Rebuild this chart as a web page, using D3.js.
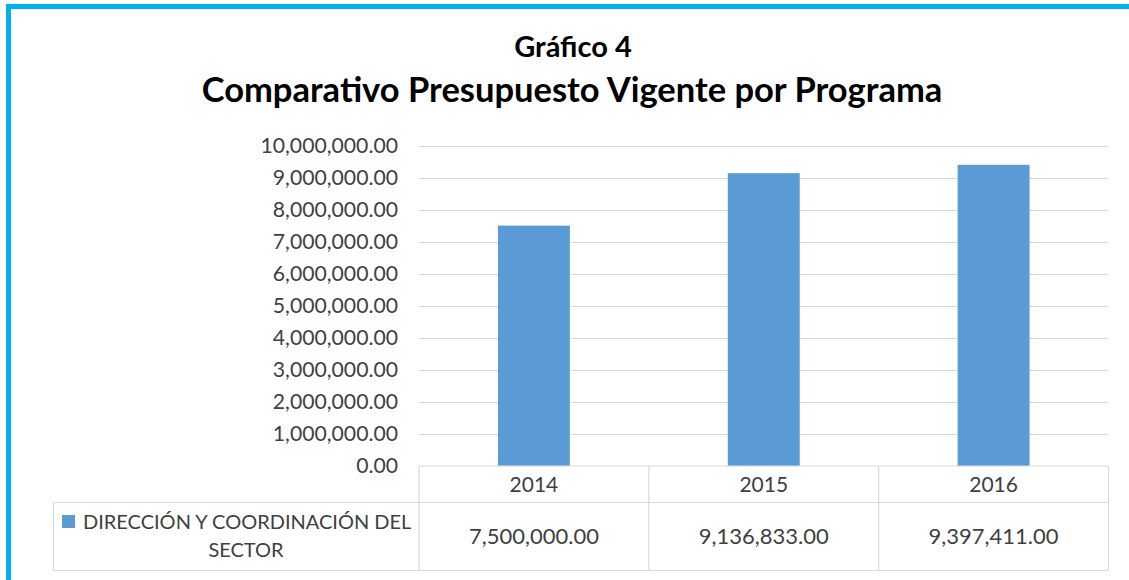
<!DOCTYPE html>
<html>
<head>
<meta charset="utf-8">
<script src="https://cdn.jsdelivr.net/npm/d3@7"></script>
<style>
  html, body { margin: 0; padding: 0; background: #fff; }
  svg { display: block; }
</style>
</head>
<body>
<div id="chart"></div>
<script>
const years = ["2014", "2015", "2016"]
const budget = [7500000, 9136833, 9397411]
const yTicks = [0, 1000000, 2000000, 3000000, 4000000, 5000000, 6000000, 7000000, 8000000, 9000000, 10000000]
const seriesName = ["DIRECCIÓN Y COORDINACIÓN DEL", "SECTOR"]
const titleTop = "Gráfico 4"
const titleMain = "Comparativo Presupuesto Vigente por Programa"

const width = 1129
const height = 580
const font = "Lato, 'Open Sans', sans-serif"
const barColor = "#5b9bd5"
const lineColor = "#d9d9d9"
const textColor = "#404040"

const plot = { left: 419, right: 1108.5, top: 145.5, bottom: 466 }
const table = { left: 53.5, catBottom: 502.5, bottom: 570.5 }

const fmt = d3.format(",.2f")

const svg = d3.select("#chart")
  .append("svg")
  .attr("width", width)
  .attr("height", height)

// cyan frame (left + top visible)
svg.append("path")
  .attr("d", `M8.5,${height} L8.5,6.5 L${width},6.5`)
  .attr("fill", "none")
  .attr("stroke", "#00b0f0")
  .attr("stroke-width", 5)

// titles
svg.append("text")
  .attr("x", 573)
  .attr("y", 57)
  .attr("text-anchor", "middle")
  .style("font", `bold 29px ${font}`)
  .style("fill", "#000")
  .text(titleTop)

svg.append("text")
  .attr("x", 572)
  .attr("y", 102)
  .attr("text-anchor", "middle")
  .style("font", `bold 34.5px ${font}`)
  .style("fill", "#000")
  .text(titleMain)

const x = d3.scaleBand()
  .domain(years)
  .range([plot.left, plot.right])
  .paddingInner(0.687)
  .paddingOuter(0.687 / 2)

const y = d3.scaleLinear()
  .domain([0, 10000000])
  .range([plot.bottom, plot.top])

// gridlines
svg.append("g")
  .selectAll("line")
  .data(yTicks.slice(1))
  .join("line")
  .attr("x1", plot.left)
  .attr("x2", plot.right)
  .attr("y1", d => Math.round(y(d)) + 0.5)
  .attr("y2", d => Math.round(y(d)) + 0.5)
  .attr("stroke", lineColor)
  .attr("stroke-width", 1.2)

// y axis labels
const yAxis = svg.append("g")
  .attr("transform", `translate(${plot.left}, 0)`)
  .call(d3.axisLeft(y).tickValues(yTicks).tickSize(0).tickPadding(21).tickFormat(fmt))

yAxis.select(".domain").remove()
yAxis.selectAll(".tick text")
  .style("font", `21.2px ${font}`)
  .style("fill", textColor)

// bars
svg.append("g")
  .selectAll("rect")
  .data(budget)
  .join("rect")
  .attr("x", (d, i) => x(years[i]))
  .attr("y", d => y(d))
  .attr("width", x.bandwidth())
  .attr("height", d => y(0) - y(d))
  .attr("fill", barColor)

// data table
const grid = svg.append("g")
  .attr("stroke", lineColor)
  .attr("stroke-width", 1.2)
  .attr("fill", "none")

grid.append("line")
  .attr("x1", plot.left).attr("x2", plot.right)
  .attr("y1", plot.bottom).attr("y2", plot.bottom)
grid.append("line")
  .attr("x1", table.left).attr("x2", plot.right)
  .attr("y1", table.catBottom).attr("y2", table.catBottom)
grid.append("line")
  .attr("x1", table.left).attr("x2", plot.right)
  .attr("y1", table.bottom).attr("y2", table.bottom)
grid.append("line")
  .attr("x1", table.left).attr("x2", table.left)
  .attr("y1", table.catBottom).attr("y2", table.bottom)

const edges = years.map(d => x(d) - x.step() * x.paddingInner() / 2)
edges.push(plot.right)
grid.selectAll(".col")
  .data(edges)
  .join("line")
  .attr("class", "col")
  .attr("x1", d => d).attr("x2", d => d)
  .attr("y1", plot.bottom).attr("y2", table.bottom)

// category labels
svg.append("g")
  .selectAll("text")
  .data(years)
  .join("text")
  .attr("x", d => x(d) + x.bandwidth() / 2)
  .attr("y", 492)
  .attr("text-anchor", "middle")
  .style("font", `21px ${font}`)
  .style("fill", textColor)
  .text(d => d)

// values row
svg.append("g")
  .selectAll("text")
  .data(budget)
  .join("text")
  .attr("x", (d, i) => x(years[i]) + x.bandwidth() / 2)
  .attr("y", 544)
  .attr("text-anchor", "middle")
  .style("font", `22px ${font}`)
  .style("fill", textColor)
  .text(d => fmt(d))

// legend key + series name
svg.append("rect")
  .attr("x", 62)
  .attr("y", 515)
  .attr("width", 13)
  .attr("height", 13)
  .attr("fill", barColor)

svg.append("text")
  .attr("x", 83)
  .attr("y", 529)
  .style("font", `20px ${font}`)
  .style("fill", textColor)
  .text(seriesName[0])

svg.append("text")
  .attr("x", 246)
  .attr("y", 557)
  .attr("text-anchor", "middle")
  .style("font", `20px ${font}`)
  .style("fill", textColor)
  .text(seriesName[1])
</script>
</body>
</html>
